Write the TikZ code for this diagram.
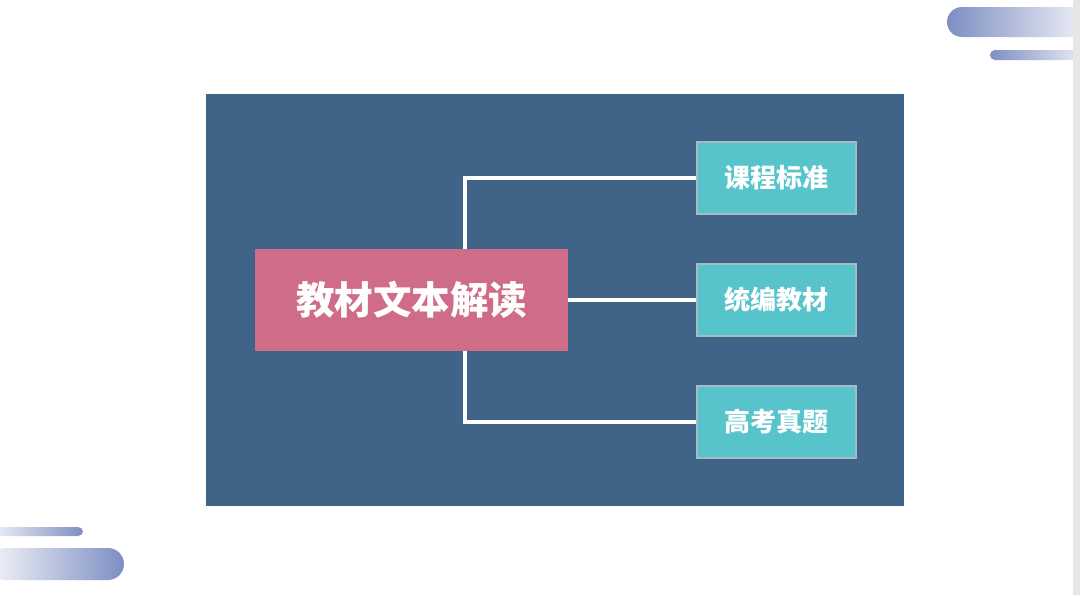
\documentclass[tikz,border=0pt]{standalone}
\usepackage{fontspec}
\newfontfamily\cjk{Noto Sans CJK SC}
\definecolor{panelblue}{HTML}{3F6488}
\definecolor{corepink}{HTML}{CF6D89}
\definecolor{leafteal}{HTML}{57C3CB}
\definecolor{leafedge}{HTML}{A3BEC6}
\definecolor{barblue}{HTML}{7D8EC2}
\definecolor{barpale}{HTML}{F2F3F8}
\definecolor{edgegray}{HTML}{E6E6E6}
\tikzset{
  corebox/.style={fill=corepink, minimum width=313pt, minimum height=102pt,
    text=white, font=\cjk\bfseries\fontsize{38.5}{42}\selectfont},
  leafbox/.style={fill=leafteal, draw=leafedge, line width=1.2pt,
    minimum width=159pt, minimum height=72pt,
    text=white, font=\cjk\bfseries\fontsize{26}{29}\selectfont},
  link/.style={white, line width=3.5pt}
}
\begin{document}
\begin{tikzpicture}[x=1pt, y=-1pt]
    \useasboundingbox (0,0) rectangle (1080,595);
    \fill[white] (0,0) rectangle (1080,595);

    % Corner bars
    \shade[left color=barblue, right color=barpale, rounded corners=15pt] (947,7) rectangle (1090,37);
    \shade[left color=barblue, right color=barpale, rounded corners=5pt] (990,50) rectangle (1090,60);
    \shade[left color=barpale, right color=barblue, rounded corners=5pt] (-10,527) rectangle (83,536);
    \shade[left color=barpale, right color=barblue, rounded corners=16pt] (-10,548) rectangle (124,580);
    \fill[edgegray] (1073,0) rectangle (1080,595);

    % Panel
    \fill[panelblue] (206,94) rectangle (904,506);

    % Nodes
    \node[corebox] (core) at (411.5,300) {教材文本解读};
    \node[leafbox] (kecheng) at (776.5,178) {课程标准};
    \node[leafbox] (tongbian) at (776.5,300) {统编教材};
    \node[leafbox] (gaokao) at (776.5,422) {高考真题};
    \coordinate (split) at (465,300);

    % Connectors
    \draw[link] (core.east) -- (tongbian.west);
    \draw[link] (core.north -| split) |- (kecheng.west);
    \draw[link] (core.south -| split) |- (gaokao.west);
\end{tikzpicture}
\end{document}
